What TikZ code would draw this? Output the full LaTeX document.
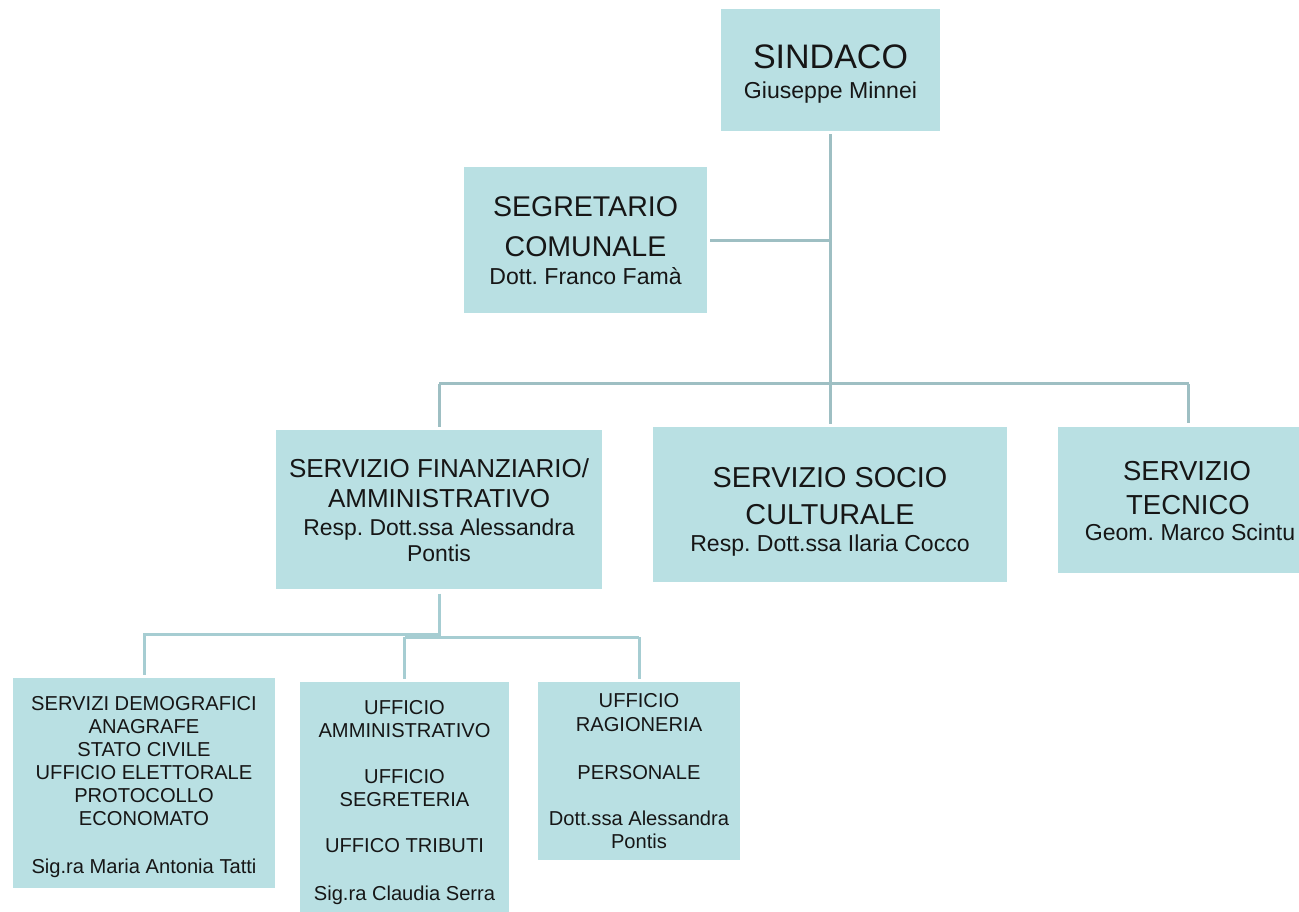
\documentclass[tikz,border=0pt]{standalone}
\usepackage{fontspec}
\setmainfont{Liberation Sans}
\frenchspacing
\definecolor{boxfill}{HTML}{B9E0E3}
\definecolor{lineA}{HTML}{9EBFC3}
\definecolor{lineB}{HTML}{A6CDD2}
\definecolor{txtc}{HTML}{161616}
\tikzset{
  box/.style={fill=boxfill, draw=none, inner sep=0pt, anchor=north west},
  lbl/.style={anchor=base, inner sep=0pt, text=txtc},
  connA/.style={draw=lineA, line width=2.25pt},
  connB/.style={draw=lineB, line width=2.25pt},
}
\newcommand\mkbox[5]{\node[box, minimum width={(#4-#2)*0.75pt}, minimum height={(#5-#3)*0.75pt}] (#1) at (#2,#3) {};}
\newcommand\fsz[1]{\fontsize{#1}{#1}\selectfont\frenchspacing}
\newcommand\tl[5]{\node[lbl, font=\fsz{#4}] (#1) at (#2,#3) {#5};}
\begin{document}
\begin{tikzpicture}[x=0.75pt,y=-0.75pt]
\useasboundingbox (0,0) rectangle (1299,912);
% boxes
\mkbox{sind}{721}{9}{940}{131}
\mkbox{seg}{464}{167}{707}{313}
\mkbox{sfa}{276}{430}{602}{589}
\mkbox{soc}{653}{427}{1007}{582}
\mkbox{tec}{1058}{427}{1319}{573}
\mkbox{bA}{13}{678}{275}{888}
\mkbox{bB}{300}{682}{509}{920}
\mkbox{bC}{538}{682}{740}{860}
% connectors (upper)
\coordinate (jm) at (830,384);
\draw[connA] ([yshift=-2pt]sind.south) -- (sind.south |- jm);
\draw[connA] ([xshift=2pt]seg.east) -- (seg.east -| sind.south);
\draw[connA] (sfa.north |- jm) -- (tec.north |- jm);
\draw[connA] (sfa.north |- jm) -- ([yshift=2pt]sfa.north);
\draw[connA] (soc.north |- jm) -- ([yshift=2pt]soc.north);
\draw[connA] (tec.north |- jm) -- ([yshift=3pt]tec.north);
% connectors (lower)
\coordinate (jl) at (439,634);
\coordinate (jr) at (404,637);
\draw[connB] ([yshift=-3pt]sfa.south) -- (sfa.south |- jl) -- (bA.north |- jl) -- ([yshift=2pt]bA.north);
\draw[connB] (bB.north |- jr) -- (bC.north |- jr);
\draw[connB] (bB.north |- jr) -- ([yshift=2pt]bB.north);
\draw[connB] (bC.north |- jr) -- ([yshift=2pt]bC.north);
% texts
\tl{sind1}{830.5}{69}{25.5}{SINDACO}
\tl{sind2}{830.5}{99}{17.3}{Giuseppe Minnei}
\tl{seg1}{585.5}{216.7}{21.4}{SEGRETARIO}
\tl{seg2}{585.5}{256.7}{21.4}{COMUNALE}
\tl{seg3}{585.5}{285}{17.3}{Dott. Franco Famà}
\tl{sfa1}{439}{477.3}{19.5}{SERVIZIO FINANZIARIO/}
\tl{sfa2}{439}{507.3}{19.5}{AMMINISTRATIVO}
\tl{sfa3}{439}{535}{17.2}{Resp. Dott.ssa Alessandra}
\tl{sfa4}{439}{561.7}{17.2}{Pontis}
\tl{soc1}{830}{487.7}{21.6}{SERVIZIO SOCIO}
\tl{soc2}{830}{524.3}{21.6}{CULTURALE}
\tl{soc3}{830}{551.7}{17.3}{Resp. Dott.ssa Ilaria Cocco}
\tl{tec1}{1187}{481}{20.6}{SERVIZIO}
\tl{tec2}{1188}{514}{20.6}{TECNICO}
\tl{tec3}{1190}{540.5}{17.3}{Geom. Marco Scintu}
\tl{a1}{144}{710}{15.1}{SERVIZI DEMOGRAFICI}
\tl{a2}{144}{733.3}{15.1}{ANAGRAFE}
\tl{a3}{144}{756.3}{15.1}{STATO CIVILE}
\tl{a4}{144}{779.3}{15.1}{UFFICIO ELETTORALE}
\tl{a5}{144}{802.5}{15.1}{PROTOCOLLO}
\tl{a6}{144}{825.7}{15.1}{ECONOMATO}
\tl{a7}{144}{873.3}{15.1}{Sig.ra Maria Antonia Tatti}
\tl{b1}{404.5}{714.3}{15.1}{UFFICIO}
\tl{b2}{404.5}{737}{15.1}{AMMINISTRATIVO}
\tl{b3}{404.5}{783.3}{15.1}{UFFICIO}
\tl{b4}{404.5}{806.3}{15.1}{SEGRETERIA}
\tl{b5}{404.5}{852.5}{15.1}{UFFICO TRIBUTI}
\tl{b6}{404.5}{900}{15.1}{Sig.ra Claudia Serra}
\tl{c1}{639}{707.7}{15.1}{UFFICIO}
\tl{c2}{639}{731}{15.1}{RAGIONERIA}
\tl{c3}{639}{779.3}{15.1}{PERSONALE}
\tl{c4}{639}{825.7}{15.1}{Dott.ssa Alessandra}
\tl{c5}{639}{848}{15.1}{Pontis}
\end{tikzpicture}
\end{document}
